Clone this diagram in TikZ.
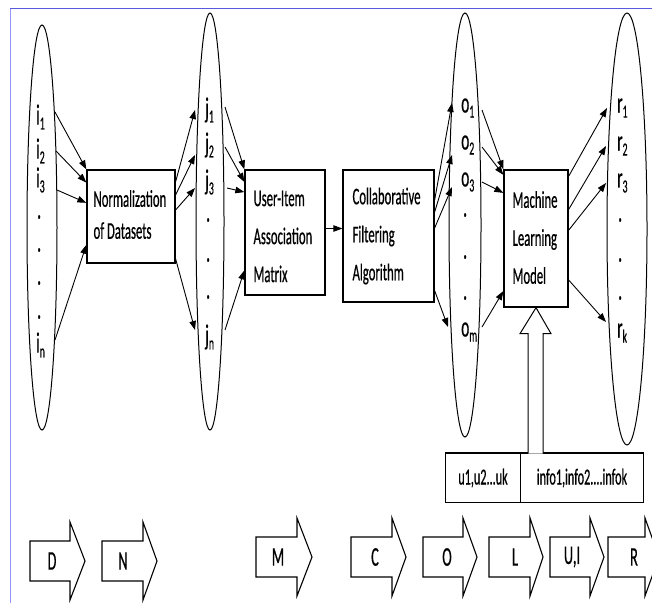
\documentclass[tikz,border=0pt]{standalone}
\usepackage{fontspec}
\setmainfont{Carlito}[FakeStretch=0.53,FakeBold=0.5]
\usetikzlibrary{shapes.geometric,arrows.meta,calc}
\definecolor{frametop}{RGB}{90,90,220}
\definecolor{frameleft}{RGB}{150,150,250}
\newcommand\sublab[2]{#1\raisebox{-5pt}{\fontsize{18.5}{18.5}\selectfont #2}}
\newcommand\blockarrow[7]{%
  \draw[blk] (#2,#5-20) -- (#3,#5-20) -- (#3,#5-39) -- (#4,#5) -- (#3,#5+39) -- (#3,#5+20) -- (#2,#5+20) -- cycle;
  \node[blklab] (#1) at (#7,#5) {#6};}
\begin{document}
\begin{tikzpicture}[x=1pt,y=-1pt,
  arr/.style={-{Triangle[length=9pt,width=6.5pt]},line width=0.9pt},
  box/.style={draw,line width=1.3pt,inner sep=0pt},
  btext/.style={anchor=west,inner sep=0pt,align=left,font=\fontsize{24}{38}\selectfont},
  oval/.style={draw,ellipse,line width=1pt,inner sep=0pt},
  lab/.style={anchor=west,inner sep=0pt,font=\fontsize{29}{29}\selectfont},
  tab/.style={draw,line width=1pt,minimum height=49pt,anchor=north west,inner sep=0pt,font=\fontsize{23}{23}\selectfont},
  blk/.style={draw,line width=1.1pt,line join=miter},
  blklab/.style={inner sep=0pt,font=\fontsize{27}{27}\selectfont}]
\path[use as bounding box] (0,0) rectangle (652,603);
\clip (0,0) rectangle (652,603);
% frame
\draw[frameleft,line width=1pt] (10,603) -- (10,8);
\draw[frametop,line width=1pt] (10,8) -- (652,8);
% ellipses
\node[oval,minimum width=30pt,minimum height=405pt] (ei) at (42,227.5) {};
\node[oval,minimum width=28pt,minimum height=417pt] (ej) at (210,221.5) {};
\node[oval,minimum width=32pt,minimum height=424pt] (eo) at (465,225) {};
\node[oval,minimum width=40pt,minimum height=432pt] (er) at (627,229) {};
% labels i
\node[lab] (i1) at (36,117) {\sublab{i}{1}};
\node[lab] (i2) at (36,151) {\sublab{i}{2}};
\node[lab] (i3) at (36,180) {\sublab{i}{3}};
\node[lab] (id1) at (37,217) {.};
\node[lab] (id2) at (37,250) {.};
\node[lab] (id3) at (37,283) {.};
\node[lab] (id4) at (37,317) {.};
\node[lab] (iN) at (36,345) {\sublab{i}{n}};
% labels j
\node[lab] (j1) at (205,110) {\sublab{j}{1}};
\node[lab] (j2) at (205,145) {\sublab{j}{2}};
\node[lab] (j3) at (205,182) {\sublab{j}{3}};
\node[lab] (jd1) at (206,220) {.};
\node[lab] (jd2) at (206,260) {.};
\node[lab] (jd3) at (206,297) {.};
\node[lab] (jN) at (205,337) {\sublab{j}{n}};
% labels o
\node[lab] (o1) at (461,108) {\sublab{o}{1}};
\node[lab] (o2) at (461,145) {\sublab{o}{2}};
\node[lab] (o3) at (461,182) {\sublab{o}{3}};
\node[lab] (od1) at (463,215) {.};
\node[lab] (od2) at (463,257) {.};
\node[lab] (od3) at (463,298) {.};
\node[lab] (oM) at (461,332) {\sublab{o}{m}};
% labels r
\node[lab] (r1) at (617,108) {\sublab{r}{1}};
\node[lab] (r2) at (617,146) {\sublab{r}{2}};
\node[lab] (r3) at (617,183) {\sublab{r}{3}};
\node[lab] (rd1) at (618,220) {.};
\node[lab] (rd2) at (618,260) {.};
\node[lab] (rd3) at (618,298) {.};
\node[lab] (rK) at (617,333) {\sublab{r}{k}};
% boxes
\node[box,minimum width=88pt,minimum height=93pt] (nd) at (131,216.5) {};
\node[btext,font=\fontsize{24}{32}\selectfont] (ndt) at ([xshift=7pt,yshift=2pt]nd.west) {Normalization\\of Datasets};
\node[box,minimum width=80pt,minimum height=125pt] (ui) at (285,232.5) {};
\node[btext] (uit) at ([xshift=9pt,yshift=-4pt]ui.west) {User-Item\\Association\\Matrix};
\node[box,minimum width=91pt,minimum height=132pt] (cf) at (388.5,236) {};
\node[btext] (cft) at ([xshift=10pt]cf.west) {Collaborative\\Filtering\\Algorithm};
\node[box,minimum width=64pt,minimum height=137pt] (ml) at (536,238.5) {};
\node[btext] (mlt) at ([xshift=9pt,yshift=1pt]ml.west) {Machine\\Learning\\Model};
% table
\node[tab,minimum width=75pt] (tu) at (445,453) {u1,u2...uk};
\node[tab,minimum width=123pt] (ti) at (520,453) {info1,info2....infok};
\draw[line width=2.2pt] (tu.north west) -- (ti.north east);
% hollow arrow
\draw[line width=1pt,fill=white,line join=miter] ($(ml.south)+(-8,146)$) -- ($(ml.south)+(-8,26)$) -- ($(ml.south)+(-16,26)$) -- (ml.south) -- ($(ml.south)+(15,26)$) -- ($(ml.south)+(7,26)$) -- ($(ml.south)+(7,146)$);
% i -> nd
\draw[arr] ([xshift=19pt,yshift=5pt]i1.west) -- (nd.north west);
\draw[arr] ([xshift=20pt]i2.west) -- ($(nd.north west)!0.14!(nd.south west)$);
\draw[arr] ([xshift=21pt,yshift=-10pt]i3.west) -- ($(nd.north west)!0.355!(nd.south west)$);
\draw[arr] ([xshift=19pt,yshift=5pt]iN.west) -- ($(nd.north west)!0.8!(nd.south west)$);
% nd -> j
\draw[arr] ($(nd.north east)!0.13!(nd.south east)$) -- ([xshift=-10pt]j1.west);
\draw[arr] ($(nd.north east)!0.27!(nd.south east)$) -- ([xshift=-10pt,yshift=-10pt]j2.west);
\draw[arr] ($(nd.north east)!0.43!(nd.south east)$) -- ([xshift=-10pt,yshift=-6pt]j3.west);
\draw[arr] ($(nd.north east)!0.95!(nd.south east)$) -- ([xshift=-10pt,yshift=7pt]jN.west);
% j -> ui
\draw[arr] ([xshift=20pt,yshift=3pt]j1.west) -- (ui.north west);
\draw[arr] ([xshift=20pt,yshift=-2pt]j2.west) -- ($(ui.north west)!0.1!(ui.south west)$);
\draw[arr] ([xshift=22pt,yshift=-6pt]j3.west) -- ($(ui.north west)!0.18!(ui.south west)$);
\draw[arr] ([xshift=20pt,yshift=7pt]jN.west) -- ($(ui.north west)!0.8!(ui.south west)$);
% ui -> cf
\draw[arr] ([yshift=4pt]ui.east) -- ([yshift=4pt]ui.east -| cf.west);
% cf -> o
\draw[arr] ($(cf.north east)!0.23!(cf.south east)$) -- ([xshift=-9pt,yshift=5pt]o1.west);
\draw[arr] ($(cf.north east)!0.32!(cf.south east)$) -- ([xshift=-9pt,yshift=-10pt]o2.west);
\draw[arr] ($(cf.north east)!0.44!(cf.south east)$) -- ([xshift=-9pt,yshift=-5pt]o3.west);
\draw[arr] ($(cf.north east)!0.91!(cf.south east)$) -- ([xshift=-13pt,yshift=5pt]oM.west);
% o -> ml
\draw[arr] ([xshift=21pt,yshift=-2pt]o1.west) -- (ml.north west);
\draw[arr] ([xshift=21pt,yshift=-2pt]o2.west) -- ($(ml.north west)!0.04!(ml.south west)$);
\draw[arr] ([xshift=21pt]o3.west) -- ($(ml.north west)!0.17!(ml.south west)$);
\draw[arr] ([xshift=21pt,yshift=5pt]oM.west) -- ($(ml.north west)!0.88!(ml.south west)$);
% ml -> r
\draw[arr] ($(ml.north east)!0.05!(ml.south east)$) -- ([xshift=-10pt]r1.west);
\draw[arr] ($(ml.north east)!0.29!(ml.south east)$) -- ([xshift=-11pt]r2.west);
\draw[arr] ($(ml.north east)!0.44!(ml.south east)$) -- ([xshift=-11pt]r3.west);
\draw[arr] ($(ml.north east)!0.8!(ml.south east)$) -- ([xshift=-11pt,yshift=11pt]rK.west);
% block arrows
\blockarrow{bD}{30}{70}{85}{561}{D}{52}
\blockarrow{bN}{102}{143}{157}{561}{N}{123}
\blockarrow{bM}{256}{297}{312}{557}{M}{278}
\blockarrow{bC}{351}{392}{406}{557}{C}{375}
\blockarrow{bO}{423}{463}{477}{557}{O}{447}
\blockarrow{bL}{489}{530}{543}{557}{L}{515}
\blockarrow{bU}{550}{590}{604}{557}{U,I}{572}
\blockarrow{bR}{608}{645}{659}{557}{R}{634}
\end{tikzpicture}
\end{document}
